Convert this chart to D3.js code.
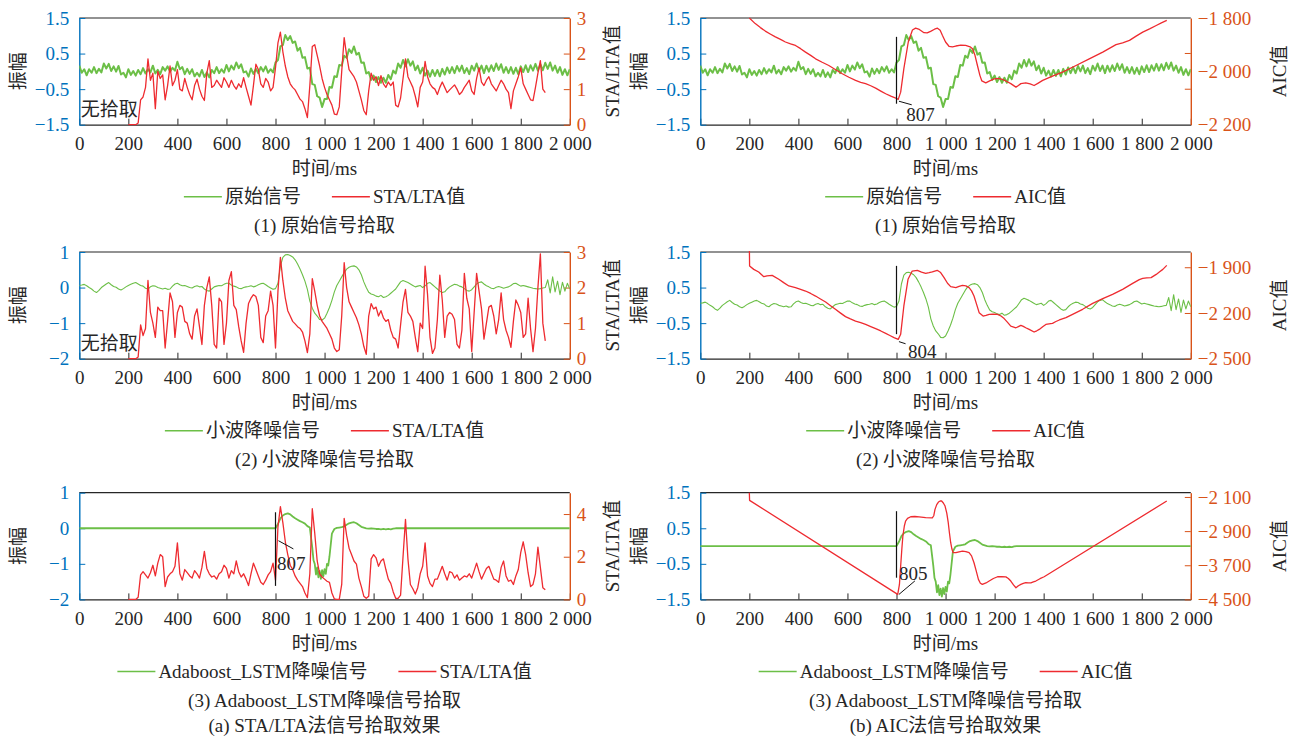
<!DOCTYPE html>
<html>
<head>
<meta charset="utf-8">
<script src="https://cdn.jsdelivr.net/npm/d3@7"></script>
<style>
  body { margin: 0; background: #fff; }
  svg { display: block; }
</style>
</head>
<body>
<svg id="chart" width="1300" height="738"></svg>
<script>
// ---- data ----
const timeTicks = [0, 200, 400, 600, 800, 1000, 1200, 1400, 1600, 1800, 2000];
const ampTicks15 = [-1.5, -0.5, 0.5, 1.5];
const ampTicks2 = [-2, -1, 0, 1];
const staTicks3 = [0, 1, 2, 3];
const staTicks5 = [0, 2, 4];
const aicTicks1 = [-2200, -2000, -1800];
const aicMarks1 = [-1933, -2067];
const aicTicks2 = [-2500, -2200, -1900];
const aicTicks3 = [-4500, -3700, -2900, -2100];

const signalNames = ["原始信号", "小波降噪信号", "Adaboost_LSTM降噪信号"];
const rightTitles = ["STA/LTA值", "AIC值"];
const rowCaptions = ["(1) 原始信号拾取", "(2) 小波降噪信号拾取", "(3) Adaboost_LSTM降噪信号拾取"];
const figCaptions = ["(a) STA/LTA法信号拾取效果", "(b) AIC法信号拾取效果"];
const noPick = "无拾取";

// signals sampled every 10 ms from 0 ms
const sigStart = 0, sigStep = 10;
const rawSignal = [
  .16,-.04,.06,-.11,.06,-.04,.12,-.05,.07,-.03,
  .22,.08,.21,.01,.14,-.01,.15,-.09,-.04,-.17,
  .06,-.10,.01,-.12,.04,-.08,.09,-.06,.06,-.03,
  .16,-.06,.04,-.08,.12,.02,.14,-.01,.10,.02,
  .27,.06,.12,-.08,.07,-.07,.06,-.14,-.04,-.14,
  .04,-.16,-.03,-.17,.04,-.05,.12,-.05,.06,-.04,
  .18,0,.16,.05,.25,.09,.20,-.03,0,-.15,
  .08,-.07,.07,-.05,.12,0,.14,-.04,.06,-.03,
  .25,.32,.70,.74,1.02,.88,.99,.80,.84,.58,
  .66,.38,.40,.08,.10,-.36,-.38,-.70,-.74,-1.00,
  -.78,-.78,-.44,-.46,-.14,-.16,.18,.16,.44,.38,
  .62,.52,.70,.47,.52,.24,.25,-.06,-.02,-.24,
  -.12,-.30,-.16,-.32,-.18,-.32,-.10,-.22,.02,-.06,
  .22,.10,.32,.14,.34,.16,.28,.03,.16,-.06,
  .10,-.12,.02,-.15,.04,-.13,.04,-.14,.07,-.09,
  .11,-.05,.12,-.05,.15,0,.16,-.05,.09,-.08,
  .16,.02,.22,.01,.16,-.05,.16,-.01,.17,.01,
  .22,.04,.20,-.04,.12,-.05,.12,-.07,.10,-.08,
  .14,-.02,.17,-.02,.17,.02,.21,.02,.20,.03,
  .24,.07,.25,.02,.16,-.04,.12,-.10,.06,-.11,
  .06
];
const waveletSignal = [
  .06,.07,.09,.05,0,-.04,-.10,-.14,-.08,0,
  .05,.10,.14,.08,.03,.01,-.04,-.07,-.03,.02,
  .06,.09,.12,.14,.10,.06,.04,-.02,-.04,.02,
  .05,.04,0,-.02,-.04,-.02,-.05,-.04,.04,.10,
  .12,.08,.05,.06,.03,0,-.01,.03,.05,.02,
  .03,-.04,-.08,-.10,-.04,.02,.04,.06,.05,.09,
  .12,.12,.07,.04,.02,-.02,-.03,0,.02,.03,
  .05,.02,.04,.08,.11,.12,.08,.03,-.01,-.05,
  -.03,.12,.60,.85,.92,.93,.90,.86,.78,.66,
  .52,.36,.18,-.05,-.38,-.58,-.72,-.80,-.90,-.91,
  -.86,-.72,-.56,-.36,-.12,.06,.18,.30,.42,.52,
  .57,.60,.61,.58,.50,.36,.16,0,-.13,-.18,
  -.20,-.24,-.26,-.22,-.28,-.26,-.22,-.16,-.10,-.04,
  .06,.16,.20,.17,.14,.10,.06,.02,.04,.06,
  0,.05,.12,.14,.08,.02,-.04,-.10,-.14,-.12,
  -.04,.02,.06,.09,.08,.04,.02,-.03,-.08,-.10,
  -.06,.02,.10,.14,.16,.10,.05,.02,-.02,-.03,
  .01,.03,.01,-.02,0,.02,.06,.11,.12,.08,
  .04,.06,.04,.02,0,-.02,-.03,-.04,-.03,-.01,
  0,.22,-.15,.30,-.12,.18,-.20,.15,-.10,.12,
  -.04
];
// Adaboost_LSTM output: [time ms, amplitude]
const lstmSignal = [
  [0,0],[800,0],[810,.12],[820,.28],[830,.36],[840,.40],[850,.42],[860,.39],[870,.33],
  [880,.28],[890,.24],[900,.20],[910,.17],[920,.13],[930,.06],[940,.02],[950,-.55],
  [955,-.90],[960,-1.00],[965,-1.30],[970,-1.10],[975,-1.38],[980,-1.20],[985,-1.42],
  [990,-1.18],[995,-1.35],[1000,-1.15],[1005,-1.28],[1010,-1.00],[1015,-1.05],[1020,-.80],
  [1030,-.15],[1040,-.02],[1050,.01],[1060,.02],[1070,.03],[1080,.05],[1090,.10],[1100,.14],
  [1110,.16],[1120,.17],[1130,.14],[1140,.09],[1150,.04],[1160,.02],[1170,0],[1180,-.01],
  [1190,0],[1200,-.01],[1210,-.02],[1220,-.02],[1230,-.03],[1240,-.02],[1250,-.03],
  [1260,-.02],[1270,-.03],[1280,-.01],[1290,0],[2000,0]
];

// STA/LTA values sampled every 10 ms from 200 ms
const staStart = 200, staStep = 10;
const staRaw = [
  0,0,0,0,.05,.70,.78,1.05,1.85,1.25,
  1.45,.45,1.50,1.30,1.40,.70,1.10,1.65,1.10,1.25,
  1.55,1.00,.95,1.30,1.05,.85,.70,1.10,1.28,1.00,
  .80,.68,1.45,1.80,1.05,1.10,1.25,1.15,1.05,1.32,
  1.20,1.05,1.25,1.10,1.00,1.15,1.05,1.32,1.05,.80,
  .55,1.10,1.70,1.55,1.15,1.05,1.30,1.20,.95,1.05,
  1.60,2.30,2.60,2.05,1.65,1.35,1.15,1.05,.98,.85,
  .72,.65,.45,.20,1.10,2.20,2.25,1.95,1.65,1.30,
  1.05,.85,.70,.55,.30,.28,.50,1.50,2.45,1.95,
  1.55,1.45,1.35,1.20,.95,.70,.40,.28,.95,1.45,
  1.25,1.35,1.10,1.38,1.15,1.05,1.20,1.10,1.20,.55,
  .50,.75,1.30,1.85,1.35,1.20,1.05,.80,.50,1.05,
  1.20,1.78,1.35,1.15,1.05,1.00,.85,1.05,1.20,1.05,
  .90,.98,1.05,1.12,1.00,.85,.92,1.05,1.15,1.25,
  .95,.85,1.30,1.60,1.20,1.10,1.25,1.35,1.15,1.05,
  .95,1.10,1.25,1.15,1.00,.90,.45,.95,1.15,1.35,
  1.60,1.15,1.00,.85,.70,.68,1.05,1.45,1.80,1.00,
  .90
];
const staWavelet = [
  0,0,0,0,.05,.95,.65,.85,2.20,1.30,
  1.00,.60,1.45,1.35,1.35,.30,1.05,1.85,1.60,.60,
  1.30,1.50,1.45,1.05,1.00,.70,.55,1.20,1.40,.90,
  .40,1.50,2.00,2.30,1.50,.40,.30,1.70,1.60,.40,
  1.00,2.20,2.45,1.50,1.38,.90,.50,.18,1.00,1.55,
  1.70,1.80,1.75,1.50,.60,.45,1.20,1.35,1.90,1.50,
  .30,1.90,2.85,2.20,1.70,1.35,1.20,1.05,.98,.90,
  .85,.75,.50,.17,.70,2.25,1.90,1.50,1.20,1.05,
  .95,.85,.70,.55,.30,.20,.25,1.20,2.70,2.00,
  1.60,1.45,1.30,1.15,.95,.70,.35,.12,1.20,1.55,
  1.40,1.45,1.20,1.35,1.15,1.05,1.10,.80,.60,.55,
  .30,.95,1.60,1.95,1.30,1.20,1.05,.60,.20,1.00,
  .85,2.60,1.80,.60,.15,.30,1.10,2.35,1.65,.60,
  1.20,1.30,1.25,1.10,.40,.30,.80,2.40,1.70,1.40,
  .20,1.30,2.40,1.90,1.40,.55,1.00,1.45,1.50,1.20,
  .70,1.10,1.85,1.10,.80,.60,.32,1.05,1.65,1.50,
  1.30,.60,.70,1.70,.85,.20,.85,2.00,2.95,1.00,
  .50
];
const staLstm = [
  0,0,0,0,.10,1.15,1.30,1.15,1.00,1.25,
  1.60,1.10,1.70,2.10,2.00,.60,1.05,1.20,1.30,1.55,
  2.65,1.20,.90,1.40,1.25,1.10,1.00,1.35,1.20,1.00,
  1.50,2.25,1.45,1.20,1.05,1.10,.95,1.20,1.30,1.60,
  1.45,1.00,1.35,1.20,1.80,1.30,1.05,1.20,.95,.65,
  1.20,1.70,1.40,1.10,.80,.70,.90,1.15,1.30,1.70,
  .90,3.40,4.35,3.60,2.70,2.10,1.60,1.40,1.10,.90,
  .75,.60,.30,.08,1.20,4.25,3.10,1.80,1.20,1.05,
  .95,.85,.80,.30,.02,0,0,.70,3.80,3.00,
  2.40,2.10,1.80,1.65,1.00,.60,.15,.05,.15,1.90,
  2.10,1.95,1.55,1.80,1.90,1.40,.95,.75,.35,.05,
  .05,.20,2.00,3.75,1.90,.70,.50,.25,.55,1.20,
  1.55,2.65,1.10,.75,.60,.95,.95,1.25,1.55,1.20,
  .90,1.30,1.25,1.00,1.15,.90,1.00,1.10,1.05,1.20,
  1.00,1.35,1.70,1.30,.95,1.20,1.45,1.55,1.25,.95,
  .90,.80,1.50,1.80,1.10,.85,.90,.70,1.10,1.40,
  2.20,2.70,2.10,1.25,.60,.70,1.20,2.45,1.50,.55,
  .45
];

// AIC curves: [time ms, AIC]
const aicRaw = [
  [200,-1800],[224,-1821],[245,-1836],[265,-1849],[285,-1860],[306,-1871],[327,-1880],
  [347,-1890],[368,-1897],[388,-1903],[409,-1915],[429,-1928],[450,-1940],[470,-1953],
  [497,-1966],[524,-1978],[552,-1994],[579,-2009],[606,-2022],[633,-2034],[654,-2041],
  [674,-2046],[695,-2054],[715,-2063],[736,-2074],[756,-2084],[777,-2093],[797,-2100],
  [807,-2105],[817,-2078],[830,-1990],[848,-1890],[865,-1845],[878,-1838],[893,-1843],
  [912,-1855],[925,-1856],[939,-1850],[955,-1842],[967,-1838],[978,-1846],[987,-1865],
  [1000,-1890],[1014,-1906],[1028,-1908],[1042,-1905],[1062,-1902],[1082,-1903],
  [1100,-1908],[1110,-1915],[1120,-1940],[1130,-1978],[1140,-2015],[1148,-2036],
  [1164,-2043],[1180,-2036],[1198,-2028],[1215,-2026],[1232,-2030],[1250,-2038],
  [1266,-2046],[1287,-2059],[1297,-2053],[1307,-2046],[1327,-2043],[1345,-2047],
  [1361,-2053],[1378,-2044],[1396,-2034],[1436,-2018],[1477,-2003],[1532,-1978],
  [1586,-1953],[1641,-1928],[1695,-1900],[1722,-1893],[1750,-1884],[1777,-1868],
  [1804,-1853],[1832,-1841],[1859,-1828],[1880,-1818],[1902,-1809]
];
const aicWavelet = [
  [200,-1760],[201,-1892],[218,-1914],[238,-1931],[259,-1962],[272,-1957],[293,-1953],
  [320,-1979],[340,-2001],[361,-2023],[388,-2034],[409,-2045],[429,-2056],[450,-2072],
  [470,-2089],[490,-2108],[511,-2128],[531,-2152],[551,-2176],[572,-2201],[592,-2224],
  [612,-2239],[633,-2253],[654,-2264],[674,-2275],[695,-2289],[715,-2303],[736,-2318],
  [756,-2334],[773,-2348],[790,-2362],[807,-2373],[817,-2340],[830,-2154],[847,-1979],
  [864,-1925],[885,-1920],[902,-1932],[919,-1940],[933,-1936],[946,-1931],[966,-1920],
  [980,-1935],[994,-1968],[1008,-2005],[1021,-2027],[1042,-2034],[1055,-2026],
  [1069,-2019],[1083,-2022],[1096,-2034],[1106,-2055],[1116,-2089],[1127,-2145],
  [1137,-2198],[1153,-2220],[1165,-2216],[1178,-2209],[1195,-2207],[1212,-2209],
  [1226,-2220],[1239,-2237],[1252,-2260],[1266,-2286],[1287,-2297],[1297,-2290],
  [1307,-2281],[1317,-2288],[1327,-2297],[1341,-2308],[1361,-2325],[1372,-2317],
  [1382,-2308],[1396,-2290],[1409,-2275],[1422,-2271],[1436,-2268],[1450,-2256],
  [1464,-2246],[1491,-2231],[1518,-2209],[1559,-2176],[1600,-2137],[1641,-2106],
  [1681,-2078],[1722,-2045],[1763,-2006],[1790,-1981],[1804,-1973],[1820,-1970],
  [1838,-1968],[1859,-1947],[1873,-1930],[1886,-1914],[1902,-1888]
];
const aicLstm = [
  [200,-2000],[201,-2180],[805,-4383],[812,-4150],[817,-3719],[822,-3300],[826,-3016],
  [832,-2780],[837,-2664],[845,-2600],[858,-2563],[875,-2558],[892,-2565],[919,-2586],
  [946,-2590],[952,-2540],[957,-2391],[964,-2280],[971,-2219],[978,-2195],[984,-2195],
  [991,-2240],[998,-2313],[1005,-2480],[1011,-2703],[1016,-2950],[1021,-3172],
  [1026,-3320],[1031,-3406],[1042,-3405],[1055,-3385],[1069,-3367],[1083,-3380],
  [1096,-3405],[1106,-3480],[1116,-3641],[1125,-3830],[1134,-4031],[1142,-4120],
  [1150,-4148],[1165,-4115],[1178,-4070],[1195,-4010],[1212,-3969],[1229,-3965],
  [1246,-3972],[1256,-4010],[1266,-4070],[1277,-4160],[1287,-4227],[1297,-4180],
  [1307,-4148],[1317,-4125],[1327,-4109],[1338,-4115],[1348,-4112],[1358,-4088],
  [1368,-4070],[1385,-4015],[1402,-3969],[1902,-2195]
];

// ---- layout ----
const svg = d3.select("#chart");
const FONT = '"Liberation Serif", "Times New Roman", "Noto Sans CJK SC", serif';
const INK = "#262626", BLUE = "#0072bd", ORANGE = "#d95319";
const GREEN = "#6cbf47", RED = "#ee2b30";
const FS = 19;
const PW = 490.5, PH = 106.7;
const colX = [79.3, 700.3];
const rowY = [18, 252, 492.7];

const fmt = v => d3.format(",")(v).replace(/,/g, " ").replace("-", "\u2212");
const uniform = (vals, start, step) => vals.map((v, i) => [start + i * step, v]);

const raw = uniform(rawSignal, sigStart, sigStep);
const wav = uniform(waveletSignal, sigStart, sigStep);

const panels = [
  { col: 0, row: 0, green: raw, greenW: 2, red: uniform(staRaw, staStart, staStep),
    left: [-1.5, 1.5], leftTicks: ampTicks15, right: [0, 3], rightTicks: staTicks3,
    rTitle: rightTitles[0], rtOff: 42.5, name: signalNames[0], note: noPick },
  { col: 0, row: 1, green: wav, greenW: 1.1, red: uniform(staWavelet, staStart, staStep),
    left: [-2, 1], leftTicks: ampTicks2, right: [0, 3], rightTicks: staTicks3,
    rTitle: rightTitles[0], rtOff: 42.5, name: signalNames[1], note: noPick },
  { col: 0, row: 2, green: lstmSignal, greenW: 1.8, red: uniform(staLstm, staStart, staStep),
    left: [-2, 1], leftTicks: ampTicks2, right: [0, 5], rightTicks: staTicks5,
    rTitle: rightTitles[0], rtOff: 42.5, name: signalNames[2],
    pick: { t: 800, top: 0.45, bottom: -1.62, leader: [[812, -0.35], [873, -0.58]], label: "807", lt: 806, lv: -1.17 } },
  { col: 1, row: 0, green: raw, greenW: 2, red: aicRaw,
    left: [-1.5, 1.5], leftTicks: ampTicks15, right: [-2200, -1800], rightTicks: aicTicks1, rightMarks: aicMarks1,
    rTitle: rightTitles[1], rtOff: 89, name: signalNames[0],
    pick: { t: 800, top: 0.97, bottom: -0.91, leader: [[810, -0.84], [862, -0.94]], label: "807", lt: 840, lv: -1.40 } },
  { col: 1, row: 1, green: wav, greenW: 1.1, red: aicWavelet,
    left: [-1.5, 1.5], leftTicks: ampTicks15, right: [-2500, -1800], rightTicks: aicTicks2,
    rTitle: rightTitles[1], rtOff: 89, name: signalNames[1],
    pick: { t: 800, top: 1.11, bottom: -0.81, leader: [[810, -1.02], [837, -1.08]], label: "804", lt: 847, lv: -1.48 } },
  { col: 1, row: 2, green: lstmSignal, greenW: 1.8, red: aicLstm,
    left: [-1.5, 1.5], leftTicks: ampTicks15, right: [-4500, -2000], rightTicks: aicTicks3,
    rTitle: rightTitles[1], rtOff: 89, name: signalNames[2],
    pick: { t: 800, top: 0.98, bottom: -0.89, leader: [[810, -1.36], [875, -0.98]], label: "805", lt: 810, lv: -0.96 } }
];

function styleText(sel) {
  return sel.attr("font-family", FONT).attr("font-size", FS);
}

function legend(cx, cy, items) {
  const g = svg.append("g");
  let pos = 0;
  items.forEach((it, i) => {
    if (i > 0) pos += 31;
    g.append("line")
      .attr("x1", pos).attr("x2", pos + 38).attr("y1", 0).attr("y2", 0)
      .attr("stroke", it.color).attr("stroke-width", 1.5);
    pos += 41;
    const t = g.append("text").attr("x", pos).attr("dy", "0.35em")
      .attr("fill", INK).text(it.name).call(styleText);
    pos += t.node().getComputedTextLength();
  });
  g.attr("transform", `translate(${cx - pos / 2},${cy})`);
}

panels.forEach((p, k) => {
  const x0 = colX[p.col], y0 = rowY[p.row], x1 = x0 + PW, y1 = y0 + PH;
  const cx = x0 + PW / 2;
  const x = d3.scaleLinear().domain([0, 2000]).range([x0, x1]);
  const yL = d3.scaleLinear().domain(p.left).range([y1, y0]);
  const yR = d3.scaleLinear().domain(p.right).range([y1, y0]);
  const g = svg.append("g");

  // box top
  g.append("line").attr("x1", x0).attr("x2", x1).attr("y1", y0).attr("y2", y0)
    .attr("stroke", INK).attr("stroke-width", 1.2);

  // bottom axis
  const gx = g.append("g").attr("transform", `translate(0,${y1})`)
    .call(d3.axisBottom(x).tickValues(timeTicks).tickSizeInner(-6).tickSizeOuter(0).tickFormat(fmt))
    .call(styleText);
  gx.select(".domain").attr("stroke", INK).attr("stroke-width", 1.2);
  gx.selectAll(".tick line").attr("stroke", INK);
  gx.selectAll(".tick text").attr("y", 18.5).attr("dy", "0.35em").attr("fill", INK);

  // left axis
  const gl = g.append("g").attr("transform", `translate(${x0},0)`)
    .call(d3.axisLeft(yL).tickValues(p.leftTicks).tickSizeInner(-6).tickSizeOuter(0).tickFormat(fmt))
    .call(styleText);
  gl.select(".domain").attr("stroke", BLUE).attr("stroke-width", 1.4);
  gl.selectAll(".tick line").attr("stroke", BLUE);
  gl.selectAll(".tick text").attr("x", -10).attr("fill", BLUE);

  // right axis
  const gr = g.append("g").attr("transform", `translate(${x1},0)`)
    .call(d3.axisRight(yR).tickValues(p.rightTicks).tickSizeInner(p.rightMarks ? 0 : -6).tickSizeOuter(0).tickFormat(fmt))
    .call(styleText);
  gr.select(".domain").attr("stroke", ORANGE).attr("stroke-width", 1.4);
  gr.selectAll(".tick line").attr("stroke", ORANGE);
  gr.selectAll(".tick text").attr("x", 7).attr("fill", ORANGE);
  if (p.rightMarks) {
    gr.selectAll(".mark").data(p.rightMarks).join("line").attr("class", "mark")
      .attr("x1", 0).attr("x2", -6).attr("y1", d => yR(d)).attr("y2", d => yR(d))
      .attr("stroke", ORANGE);
  }

  // axis titles
  g.append("text").attr("transform", `translate(${x0 - 61},${(y0 + y1) / 2}) rotate(-90)`)
    .attr("text-anchor", "middle").attr("dy", "0.35em").attr("fill", INK).text("振幅").call(styleText);
  g.append("text").attr("transform", `translate(${x1 + p.rtOff},${(y0 + y1) / 2}) rotate(-90)`)
    .attr("text-anchor", "middle").attr("dy", "0.35em").attr("fill", INK).text(p.rTitle).call(styleText);
  g.append("text").attr("x", cx).attr("y", y1 + 43.5).attr("dy", "0.35em")
    .attr("text-anchor", "middle").attr("fill", INK).text("时间/ms").call(styleText);

  // data
  const clipId = "clip" + k;
  svg.append("clipPath").attr("id", clipId).append("rect")
    .attr("x", x0).attr("y", y0 - 1).attr("width", PW).attr("height", PH + 2);
  const plot = g.append("g").attr("clip-path", `url(#${clipId})`);
  plot.append("path").datum(p.green)
    .attr("d", d3.line().x(d => x(d[0])).y(d => yL(d[1])))
    .attr("fill", "none").attr("stroke", GREEN).attr("stroke-width", p.greenW)
    .attr("stroke-linejoin", "round");
  plot.append("path").datum(p.red)
    .attr("d", d3.line().x(d => x(d[0])).y(d => yR(d[1])))
    .attr("fill", "none").attr("stroke", RED).attr("stroke-width", 1.3)
    .attr("stroke-linejoin", "round");

  // annotations
  if (p.note) {
    g.append("text").attr("x", x0 + 1.5).attr("y", y0 + 91.3).attr("dy", "0.35em")
      .attr("fill", INK).text(p.note).call(styleText);
  }
  if (p.pick) {
    const q = p.pick;
    g.append("line").attr("x1", x(q.t)).attr("x2", x(q.t)).attr("y1", yL(q.top)).attr("y2", yL(q.bottom))
      .attr("stroke", "#111").attr("stroke-width", 1.2);
    g.append("line")
      .attr("x1", x(q.leader[0][0])).attr("y1", yL(q.leader[0][1]))
      .attr("x2", x(q.leader[1][0])).attr("y2", yL(q.leader[1][1]))
      .attr("stroke", "#111").attr("stroke-width", 1);
    g.append("text").attr("x", x(q.lt)).attr("y", yL(q.lv))
      .attr("fill", INK).text(q.label).call(styleText);
  }

  // legend + caption
  legend(cx, y1 + 72, [{ name: p.name, color: GREEN }, { name: p.rTitle, color: RED }]);
  svg.append("text").attr("x", cx).attr("y", y1 + 100.5).attr("dy", "0.35em")
    .attr("text-anchor", "middle").attr("fill", INK).text(rowCaptions[p.row]).call(styleText);
  if (p.row === 2) {
    svg.append("text").attr("x", cx).attr("y", y1 + 125.7).attr("dy", "0.35em")
      .attr("text-anchor", "middle").attr("fill", INK).text(figCaptions[p.col]).call(styleText);
  }
});
</script>
</body>
</html>
